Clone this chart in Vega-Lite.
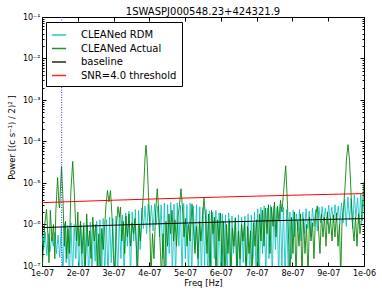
{
"$schema": "https://vega.github.io/schema/vega-lite/v6.json",
"width": 322, "height": 249,
"autosize": "none",
"padding": {"left": 42, "top": 17, "right": 18, "bottom": 25},
"background": "white",
"title": {"text": "1SWASPJ000548.23+424321.9", "fontSize": 10, "fontWeight": "normal", "font": "DejaVu Sans", "color": "black", "anchor": "middle", "offset": -4},
"config": {"font": "DejaVu Sans", "view": {"stroke": "black", "strokeWidth": 1}, "axis": {"grid": false, "domain": false, "tickColor": "black", "labelColor": "black", "titleColor": "black"}},
"datasets": {
"rdm": [{"freq":1e-7,"power":5.5e-7},{"freq":1.045e-7,"power":2.5e-7},{"freq":1.09e-7,"power":6.5e-7},{"freq":1.135e-7,"power":1.8e-7},{"freq":1.18e-7,"power":6e-7},{"freq":1.225e-7,"power":2.2e-7},{"freq":1.27e-7,"power":5e-7},{"freq":1.315e-7,"power":3e-7},{"freq":1.36e-7,"power":6.5e-7},{"freq":1.405e-7,"power":2e-7},{"freq":1.45e-7,"power":5.5e-7},{"freq":1.495e-7,"power":1.6e-7},
{"freq":1.54e-7,"power":9e-7},{"freq":1.585e-7,"power":5e-8},{"freq":1.63e-7,"power":1.05e-6},{"freq":1.675e-7,"power":1.2e-7},{"freq":1.72e-7,"power":9.5e-7},{"freq":1.765e-7,"power":5e-8},{"freq":1.81e-7,"power":1.1e-6},{"freq":1.855e-7,"power":6e-8},{"freq":1.9e-7,"power":1e-6},{"freq":1.945e-7,"power":1.5e-7},{"freq":1.99e-7,"power":9e-7},{"freq":2.035e-7,"power":5e-8},{"freq":2.08e-7,"power":1.05e-6},{"freq":2.125e-7,"power":5e-8},{"freq":2.17e-7,"power":1.1e-6},{"freq":2.215e-7,"power":1e-7},{"freq":2.26e-7,"power":9.5e-7},{"freq":2.305e-7,"power":5e-8},{"freq":2.35e-7,"power":1.15e-6},{"freq":2.395e-7,"power":5e-8},{"freq":2.44e-7,"power":1e-6},{"freq":2.485e-7,"power":1.3e-7},{"freq":2.53e-7,"power":1.2e-6},{"freq":2.575e-7,"power":5e-8},{"freq":2.62e-7,"power":1.3e-6},
{"freq":2.665e-7,"power":5e-8},{"freq":2.71e-7,"power":1.4e-6},{"freq":2.755e-7,"power":6e-8},{"freq":2.8e-7,"power":1.3e-6},{"freq":2.845e-7,"power":5e-8},{"freq":2.89e-7,"power":1.5e-6},{"freq":2.935e-7,"power":1.2e-7},{"freq":2.98e-7,"power":1.4e-6},{"freq":3.025e-7,"power":5e-8},{"freq":3.07e-7,"power":1.6e-6},{"freq":3.115e-7,"power":5e-8},{"freq":3.16e-7,"power":1.5e-6},{"freq":3.205e-7,"power":1.5e-7},{"freq":3.25e-7,"power":1.7e-6},{"freq":3.295e-7,"power":5e-8},
{"freq":3.34e-7,"power":1.9e-6},{"freq":3.385e-7,"power":3e-7},{"freq":3.43e-7,"power":2.1e-6},{"freq":3.475e-7,"power":5e-8},{"freq":3.52e-7,"power":2e-6},{"freq":3.565e-7,"power":4e-7},{"freq":3.61e-7,"power":2.3e-6},{"freq":3.655e-7,"power":5e-8},{"freq":3.7e-7,"power":2.2e-6},{"freq":3.745e-7,"power":2.5e-7},{"freq":3.79e-7,"power":2.5e-6},
{"freq":3.835e-7,"power":8e-7},{"freq":3.88e-7,"power":2.8e-6},{"freq":3.925e-7,"power":6e-7},{"freq":3.97e-7,"power":3.1e-6},{"freq":4.015e-7,"power":9e-7},{"freq":4.06e-7,"power":2.9e-6},{"freq":4.105e-7,"power":7e-7},{"freq":4.15e-7,"power":3.2e-6},{"freq":4.195e-7,"power":1e-6},{"freq":4.24e-7,"power":2.8e-6},{"freq":4.285e-7,"power":5e-7},{"freq":4.33e-7,"power":3e-6},{"freq":4.375e-7,"power":1.5e-7},
{"freq":4.42e-7,"power":3.3e-6},{"freq":4.465e-7,"power":5e-8},{"freq":4.51e-7,"power":3e-6},{"freq":4.555e-7,"power":2e-7},{"freq":4.6e-7,"power":3.4e-6},{"freq":4.645e-7,"power":5e-8},{"freq":4.69e-7,"power":3.1e-6},{"freq":4.735e-7,"power":5e-8},{"freq":4.78e-7,"power":3.3e-6},{"freq":4.825e-7,"power":3e-7},{"freq":4.87e-7,"power":2.9e-6},{"freq":4.915e-7,"power":5e-8},{"freq":4.96e-7,"power":3.2e-6},{"freq":5.005e-7,"power":1.5e-7},{"freq":5.05e-7,"power":3e-6},{"freq":5.095e-7,"power":5e-8},{"freq":5.14e-7,"power":3.3e-6},{"freq":5.185e-7,"power":5e-8},{"freq":5.23e-7,"power":2.8e-6},{"freq":5.275e-7,"power":2.5e-7},{"freq":5.32e-7,"power":3e-6},{"freq":5.365e-7,"power":5e-8},{"freq":5.41e-7,"power":2.7e-6},{"freq":5.455e-7,"power":5e-8},{"freq":5.5e-7,"power":2.6e-6},{"freq":5.545e-7,"power":1e-7},
{"freq":5.59e-7,"power":2.3e-6},{"freq":5.635e-7,"power":5e-8},{"freq":5.68e-7,"power":2.1e-6},{"freq":5.725e-7,"power":5e-8},{"freq":5.77e-7,"power":2e-6},{"freq":5.815e-7,"power":1.5e-7},{"freq":5.86e-7,"power":2.2e-6},{"freq":5.905e-7,"power":5e-8},{"freq":5.95e-7,"power":1.9e-6},{"freq":5.995e-7,"power":5e-8},{"freq":6.04e-7,"power":1.8e-6},{"freq":6.085e-7,"power":1e-7},{"freq":6.13e-7,"power":1.7e-6},{"freq":6.175e-7,"power":5e-8},{"freq":6.22e-7,"power":1.9e-6},{"freq":6.265e-7,"power":5e-8},{"freq":6.31e-7,"power":1.6e-6},{"freq":6.355e-7,"power":2e-7},{"freq":6.4e-7,"power":1.5e-6},{"freq":6.445e-7,"power":5e-8},{"freq":6.49e-7,"power":1.7e-6},{"freq":6.535e-7,"power":5e-8},{"freq":6.58e-7,"power":1.5e-6},{"freq":6.625e-7,"power":1.2e-7},{"freq":6.67e-7,"power":1.6e-6},{"freq":6.715e-7,"power":5e-8},{"freq":6.76e-7,"power":1.8e-6},{"freq":6.805e-7,"power":5e-8},{"freq":6.85e-7,"power":1.7e-6},{"freq":6.895e-7,"power":1.5e-7},{"freq":6.94e-7,"power":2e-6},{"freq":6.985e-7,"power":5e-8},
{"freq":7.03e-7,"power":2.4e-6},{"freq":7.075e-7,"power":5e-8},{"freq":7.12e-7,"power":2.6e-6},{"freq":7.165e-7,"power":2e-7},{"freq":7.21e-7,"power":2.8e-6},{"freq":7.255e-7,"power":5e-8},{"freq":7.3e-7,"power":2.5e-6},{"freq":7.345e-7,"power":1.5e-7},{"freq":7.39e-7,"power":2.9e-6},{"freq":7.435e-7,"power":5e-8},{"freq":7.48e-7,"power":2.7e-6},{"freq":7.525e-7,"power":2.5e-7},{"freq":7.57e-7,"power":2.6e-6},{"freq":7.615e-7,"power":5e-8},{"freq":7.66e-7,"power":2.9e-6},{"freq":7.705e-7,"power":1e-7},{"freq":7.75e-7,"power":2.6e-6},{"freq":7.795e-7,"power":5e-8},{"freq":7.84e-7,"power":2.3e-6},{"freq":7.885e-7,"power":5e-8},
{"freq":7.93e-7,"power":2e-6},{"freq":7.975e-7,"power":1.5e-7},{"freq":8.02e-7,"power":2.2e-6},{"freq":8.065e-7,"power":5e-7},{"freq":8.11e-7,"power":1.8e-6},{"freq":8.155e-7,"power":7e-7},{"freq":8.2e-7,"power":2.3e-6},{"freq":8.245e-7,"power":4e-7},{"freq":8.29e-7,"power":2e-6},{"freq":8.335e-7,"power":6e-7},{"freq":8.38e-7,"power":2.4e-6},{"freq":8.425e-7,"power":8e-7},{"freq":8.47e-7,"power":2.1e-6},{"freq":8.515e-7,"power":5e-7},{"freq":8.56e-7,"power":2.5e-6},{"freq":8.605e-7,"power":9e-7},{"freq":8.65e-7,"power":2.3e-6},{"freq":8.695e-7,"power":7e-7},{"freq":8.74e-7,"power":2.6e-6},
{"freq":8.785e-7,"power":1.1e-6},{"freq":8.83e-7,"power":2.7e-6},{"freq":8.875e-7,"power":1.2e-6},{"freq":8.92e-7,"power":2.5e-6},{"freq":8.965e-7,"power":1e-6},{"freq":9.01e-7,"power":2.9e-6},{"freq":9.055e-7,"power":1.3e-6},{"freq":9.1e-7,"power":2.6e-6},{"freq":9.145e-7,"power":1.1e-6},{"freq":9.19e-7,"power":3e-6},{"freq":9.235e-7,"power":1.2e-6},{"freq":9.28e-7,"power":2.8e-6},{"freq":9.325e-7,"power":1e-6},{"freq":9.37e-7,"power":3.3e-6},{"freq":9.415e-7,"power":1.1e-6},
{"freq":9.46e-7,"power":4e-6},{"freq":9.505e-7,"power":9e-7},{"freq":9.55e-7,"power":4.6e-6},{"freq":9.595e-7,"power":1.3e-6},{"freq":9.64e-7,"power":4.2e-6},{"freq":9.685e-7,"power":8e-7},{"freq":9.73e-7,"power":5.2e-6},{"freq":9.775e-7,"power":1.5e-6},{"freq":9.82e-7,"power":4.4e-6},{"freq":9.865e-7,"power":1e-6},{"freq":9.91e-7,"power":5.5e-6},{"freq":9.955e-7,"power":1.2e-6},{"freq":1e-6,"power":4.8e-6}],
"actual": [{"freq":1e-7,"power":6e-8},{"freq":1.028e-7,"power":2e-7},{"freq":1.07e-7,"power":9e-7},{"freq":1.126e-7,"power":2.3e-6},{"freq":1.168e-7,"power":5e-7},{"freq":1.196e-7,"power":1.2e-7},{"freq":1.232e-7,"power":2.2e-6},{"freq":1.28e-7,"power":4e-7},{"freq":1.321e-7,"power":1e-6},{"freq":1.358e-7,"power":1.5e-7},{"freq":1.386e-7,"power":2e-6},{"freq":1.436e-7,"power":1.35e-5},{"freq":1.475e-7,"power":3e-6},{"freq":1.492e-7,"power":2.5e-6},{"freq":1.545e-7,"power":2.5e-5},{"freq":1.587e-7,"power":4e-6},{"freq":1.623e-7,"power":3e-7},{"freq":1.657e-7,"power":1.2e-6},{"freq":1.693e-7,"power":1.5e-7},{"freq":1.727e-7,"power":8e-7},{"freq":1.763e-7,"power":2e-7},{"freq":1.805e-7,"power":6e-6},{"freq":1.858e-7,"power":3.3e-5},{"freq":1.903e-7,"power":6e-6},{"freq":1.936e-7,"power":1.2e-6},{"freq":1.964e-7,"power":4e-7},{"freq":2.001e-7,"power":2e-6},{"freq":2.034e-7,"power":3e-7},{"freq":2.076e-7,"power":1.2e-6},{"freq":2.118e-7,"power":2e-7},{"freq":2.16e-7,"power":9e-7},{"freq":2.202e-7,"power":5e-8},{"freq":2.249e-7,"power":1.8e-6},{"freq":2.294e-7,"power":3e-7},{"freq":2.333e-7,"power":7e-7},{"freq":2.37e-7,"power":1.5e-7},{"freq":2.42e-7,"power":1.5e-6},{"freq":2.462e-7,"power":4e-7},{"freq":2.504e-7,"power":1e-6},{"freq":2.546e-7,"power":8e-8},{"freq":2.588e-7,"power":6e-7},{"freq":2.627e-7,"power":5e-8},{"freq":2.671e-7,"power":8e-7},{"freq":2.713e-7,"power":2.5e-7},{"freq":2.755e-7,"power":1e-6},{"freq":2.789e-7,"power":3e-6},{"freq":2.831e-7,"power":6.6e-6},{"freq":2.872e-7,"power":3.5e-6},{"freq":2.915e-7,"power":6.6e-6},{"freq":2.957e-7,"power":1.5e-6},{"freq":2.993e-7,"power":2e-7},{"freq":3.035e-7,"power":5e-8},{"freq":3.077e-7,"power":9e-7},{"freq":3.124e-7,"power":2.7e-6},{"freq":3.161e-7,"power":1.5e-6},{"freq":3.194e-7,"power":2.6e-6},{"freq":3.23e-7,"power":4e-7},{"freq":3.272e-7,"power":1.2e-6},{"freq":3.311e-7,"power":2e-7},{"freq":3.348e-7,"power":1.6e-6},{"freq":3.39e-7,"power":5e-7},{"freq":3.432e-7,"power":1.8e-6},{"freq":3.474e-7,"power":3e-7},{"freq":3.516e-7,"power":1.1e-6},{"freq":3.557e-7,"power":6e-7},{"freq":3.599e-7,"power":1.4e-6},{"freq":3.641e-7,"power":2.5e-7},{"freq":3.669e-7,"power":6e-8},{"freq":3.711e-7,"power":1e-6},{"freq":3.753e-7,"power":4e-7},{"freq":3.795e-7,"power":1.8e-6},{"freq":3.837e-7,"power":6e-6},{"freq":3.879e-7,"power":4e-5},{"freq":3.907e-7,"power":8.1e-5},{"freq":3.935e-7,"power":4e-5},{"freq":3.977e-7,"power":5e-6},{"freq":4.013e-7,"power":1e-6},{"freq":4.046e-7,"power":5e-8},{"freq":4.088e-7,"power":6e-7},{"freq":4.13e-7,"power":1.5e-7},{"freq":4.177e-7,"power":2e-6},{"freq":4.222e-7,"power":7.3e-6},{"freq":4.264e-7,"power":2e-6},{"freq":4.298e-7,"power":4e-7},{"freq":4.34e-7,"power":5e-8},{"freq":4.382e-7,"power":6e-7},{"freq":4.424e-7,"power":5e-8},{"freq":4.466e-7,"power":1.2e-6},{"freq":4.507e-7,"power":3e-7},{"freq":4.549e-7,"power":1.8e-6},{"freq":4.592e-7,"power":6e-7},{"freq":4.634e-7,"power":2.2e-6},{"freq":4.676e-7,"power":4e-7},{"freq":4.717e-7,"power":1.3e-6},{"freq":4.759e-7,"power":3e-7},{"freq":4.801e-7,"power":1.5e-6},{"freq":4.843e-7,"power":3e-6},{"freq":4.885e-7,"power":7.3e-6},{"freq":4.927e-7,"power":2.5e-6},{"freq":4.969e-7,"power":5e-7},{"freq":5.011e-7,"power":1.4e-6},{"freq":5.053e-7,"power":3e-7},{"freq":5.095e-7,"power":1e-6},{"freq":5.137e-7,"power":4e-7},{"freq":5.193e-7,"power":3.1e-6},{"freq":5.234e-7,"power":8e-7},{"freq":5.276e-7,"power":2e-7},{"freq":5.318e-7,"power":9e-7},{"freq":5.36e-7,"power":1.5e-7},{"freq":5.402e-7,"power":1.2e-6},{"freq":5.444e-7,"power":4e-7},{"freq":5.486e-7,"power":1.5e-6},{"freq":5.528e-7,"power":4.3e-6},{"freq":5.57e-7,"power":1.5e-6},{"freq":5.612e-7,"power":2e-7},{"freq":5.654e-7,"power":1.8e-6},{"freq":5.696e-7,"power":5e-8},{"freq":5.738e-7,"power":2.2e-6},{"freq":5.78e-7,"power":6e-7},{"freq":5.821e-7,"power":1.5e-6},{"freq":5.863e-7,"power":5e-8},{"freq":5.905e-7,"power":1.3e-6},{"freq":5.947e-7,"power":4e-7},{"freq":5.989e-7,"power":1.9e-6},{"freq":6.031e-7,"power":1e-7},{"freq":6.073e-7,"power":1.2e-6},{"freq":6.115e-7,"power":5e-8},{"freq":6.157e-7,"power":1e-6},{"freq":6.199e-7,"power":2e-7},{"freq":6.241e-7,"power":1.3e-6},{"freq":6.282e-7,"power":5e-8},{"freq":6.324e-7,"power":8e-7},{"freq":6.366e-7,"power":3e-7},{"freq":6.408e-7,"power":1.4e-6},{"freq":6.45e-7,"power":5e-8},{"freq":6.492e-7,"power":7e-7},{"freq":6.534e-7,"power":1.5e-7},{"freq":6.576e-7,"power":1e-6},{"freq":6.618e-7,"power":4e-7},{"freq":6.66e-7,"power":1.2e-6},{"freq":6.702e-7,"power":5e-8},{"freq":6.744e-7,"power":9e-7},{"freq":6.786e-7,"power":2e-7},{"freq":6.828e-7,"power":7e-7},{"freq":6.87e-7,"power":5e-8},{"freq":6.911e-7,"power":1.1e-6},{"freq":6.953e-7,"power":3e-7},{"freq":6.995e-7,"power":1.3e-6},{"freq":7.037e-7,"power":1e-7},{"freq":7.079e-7,"power":1.8e-6},{"freq":7.121e-7,"power":4e-7},{"freq":7.163e-7,"power":2.2e-6},{"freq":7.205e-7,"power":3e-7},{"freq":7.247e-7,"power":2.5e-6},{"freq":7.289e-7,"power":6e-7},{"freq":7.331e-7,"power":3e-6},{"freq":7.373e-7,"power":2e-7},{"freq":7.415e-7,"power":2.6e-6},{"freq":7.457e-7,"power":9e-7},{"freq":7.498e-7,"power":3.5e-6},{"freq":7.54e-7,"power":5e-7},{"freq":7.583e-7,"power":2.8e-6},{"freq":7.624e-7,"power":1.2e-6},{"freq":7.666e-7,"power":3.8e-6},{"freq":7.708e-7,"power":2e-6},{"freq":7.75e-7,"power":6e-6},{"freq":7.812e-7,"power":2.6e-5},{"freq":7.862e-7,"power":3e-6},{"freq":7.895e-7,"power":4e-7},{"freq":7.932e-7,"power":5e-8},{"freq":7.974e-7,"power":1.5e-6},{"freq":8.015e-7,"power":2e-7},{"freq":8.057e-7,"power":2e-6},{"freq":8.099e-7,"power":5e-8},{"freq":8.141e-7,"power":1.2e-6},{"freq":8.183e-7,"power":3e-7},{"freq":8.225e-7,"power":1.8e-6},{"freq":8.267e-7,"power":5e-8},{"freq":8.309e-7,"power":1.4e-6},{"freq":8.351e-7,"power":2e-7},{"freq":8.393e-7,"power":1e-6},{"freq":8.435e-7,"power":5e-8},{"freq":8.477e-7,"power":1.5e-6},{"freq":8.519e-7,"power":4e-7},{"freq":8.561e-7,"power":1.1e-6},{"freq":8.602e-7,"power":1.5e-7},{"freq":8.644e-7,"power":1.6e-6},{"freq":8.695e-7,"power":2.8e-6},{"freq":8.737e-7,"power":6e-7},{"freq":8.77e-7,"power":2e-7},{"freq":8.812e-7,"power":1.8e-6},{"freq":8.854e-7,"power":5e-7},{"freq":8.896e-7,"power":1.5e-6},{"freq":8.938e-7,"power":3e-7},{"freq":8.98e-7,"power":2e-6},{"freq":9.022e-7,"power":6e-7},{"freq":9.064e-7,"power":1.4e-6},{"freq":9.106e-7,"power":4e-7},{"freq":9.147e-7,"power":1.7e-6},{"freq":9.189e-7,"power":5e-7},{"freq":9.231e-7,"power":1.9e-6},{"freq":9.273e-7,"power":3e-7},{"freq":9.315e-7,"power":1e-6},{"freq":9.349e-7,"power":5e-8},{"freq":9.386e-7,"power":1.2e-6},{"freq":9.428e-7,"power":2.5e-6},{"freq":9.47e-7,"power":8e-6},{"freq":9.512e-7,"power":4e-5},{"freq":9.554e-7,"power":8.4e-5},{"freq":9.596e-7,"power":3.5e-5},{"freq":9.637e-7,"power":6e-6},{"freq":9.679e-7,"power":1e-6},{"freq":9.721e-7,"power":4e-7},{"freq":9.763e-7,"power":1.5e-6},{"freq":9.805e-7,"power":3e-7},{"freq":9.847e-7,"power":1.8e-6},{"freq":9.889e-7,"power":6e-7},{"freq":9.931e-7,"power":1.5e-6},{"freq":9.959e-7,"power":3e-6},{"freq":9.987e-7,"power":7e-6},{"freq":1e-6,"power":1.06e-5}],
"baseline": [{"freq":1e-7,"power":8.4e-7},{"freq":2e-7,"power":9.01e-7},{"freq":3e-7,"power":9.62e-7},{"freq":4e-7,"power":1.023e-6},{"freq":5e-7,"power":1.084e-6},{"freq":6e-7,"power":1.146e-6},{"freq":7e-7,"power":1.207e-6},{"freq":8e-7,"power":1.268e-6},{"freq":9e-7,"power":1.329e-6},{"freq":1e-6,"power":1.39e-6}],
"threshold": [{"freq":1e-7,"power":3.36e-6},{"freq":2e-7,"power":3.604e-6},{"freq":3e-7,"power":3.848e-6},{"freq":4e-7,"power":4.092e-6},{"freq":5e-7,"power":4.336e-6},{"freq":6e-7,"power":4.584e-6},{"freq":7e-7,"power":4.828e-6},{"freq":8e-7,"power":5.072e-6},{"freq":9e-7,"power":5.316e-6},{"freq":1e-6,"power":5.56e-6}],
"marker": [{"freq":1.55e-7}]
},
"layer": [
{"data": {"name": "rdm"}, "mark": {"type": "line", "clip": true, "strokeWidth": 1, "opacity": 0.8},
 "encoding": {
  "x": {"field": "freq", "type": "quantitative", "scale": {"domain": [1e-7, 1e-6], "nice": false, "zero": false},
   "axis": {"orient": "bottom", "values": [1e-7,2e-7,3e-7,4e-7,5e-7,6e-7,7e-7,8e-7,9e-7,1e-6], "labelExpr": "replace(format(datum.value, '.0e'), 'e-', 'e-0')", "ticks": false, "labelFontSize": 8, "labelPadding": 3, "labelOverlap": false, "labelFlush": false, "labelBound": false, "title": "Freq [Hz]", "titleFontSize": 8.5, "titleFontWeight": "normal", "titlePadding": 1}},
  "y": {"field": "power", "type": "quantitative", "scale": {"type": "log", "domain": [1e-7, 0.1], "nice": false},
   "axis": {"orient": "left", "values": [1e-7,1e-6,1e-5,1e-4,1e-3,1e-2,1e-1], "labelExpr": "datum.value < 2e-7 ? '10⁻⁷' : datum.value < 2e-6 ? '10⁻⁶' : datum.value < 2e-5 ? '10⁻⁵' : datum.value < 2e-4 ? '10⁻⁴' : datum.value < 2e-3 ? '10⁻³' : datum.value < 2e-2 ? '10⁻²' : '10⁻¹'", "ticks": false, "labelFontSize": 8, "labelPadding": 2, "labelOverlap": false, "labelFlush": false, "labelBound": false, "title": "Power [(c s⁻¹) / 2)² ]", "titleFontSize": 8.5, "titleFontWeight": "normal", "titleX": -31, "titleY": 120, "titleAngle": 270, "titleAlign": "center", "titleBaseline": "middle"}},
  "color": {"datum": "CLEANed RDM", "type": "nominal",
   "scale": {"domain": ["CLEANed RDM", "CLEANed Actual", "baseline", "SNR=4.0 threshold"], "range": ["#00BFBF", "#008000", "#000000", "#FF0000"]},
   "legend": {"orient": "none", "legendX": 4, "legendY": 5, "title": null, "fillColor": "white", "strokeColor": "black", "padding": 5, "labelFontSize": 10, "labelColor": "black", "symbolType": "stroke", "symbolSize": 200, "symbolStrokeWidth": 1.5, "symbolOpacity": 0.5, "labelOffset": 14, "rowPadding": 0.5, "cornerRadius": 0}}
 }},
{"data": {"name": "actual"}, "mark": {"type": "line", "clip": true, "strokeWidth": 1, "opacity": 0.85},
 "encoding": {"x": {"field": "freq", "type": "quantitative", "axis": null}, "y": {"field": "power", "type": "quantitative", "axis": null}, "color": {"datum": "CLEANed Actual", "type": "nominal"}}},
{"data": {"name": "baseline"}, "mark": {"type": "line", "clip": true, "strokeWidth": 1},
 "encoding": {"x": {"field": "freq", "type": "quantitative", "axis": null}, "y": {"field": "power", "type": "quantitative", "axis": null}, "color": {"datum": "baseline", "type": "nominal"}}},
{"data": {"name": "threshold"}, "mark": {"type": "line", "clip": true, "strokeWidth": 1},
 "encoding": {"x": {"field": "freq", "type": "quantitative", "axis": null}, "y": {"field": "power", "type": "quantitative", "axis": null}, "color": {"datum": "SNR=4.0 threshold", "type": "nominal"}}},
{"data": {"name": "marker"}, "mark": {"type": "rule", "color": "#3333FF", "strokeDash": [1, 1.5], "strokeWidth": 1},
 "encoding": {"x": {"field": "freq", "type": "quantitative", "axis": null}}},
{"data": {"name": "baseline"}, "mark": {"type": "line", "opacity": 0},
 "encoding": {
  "x": {"field": "freq", "type": "quantitative", "axis": {"orient": "bottom", "values": [1e-7,2e-7,3e-7,4e-7,5e-7,6e-7,7e-7,8e-7,9e-7,1e-6], "labels": false, "ticks": true, "tickSize": -4, "title": null}},
  "y": {"field": "power", "type": "quantitative", "axis": {"orient": "left", "values": [1e-7,2e-7,3e-7,4e-7,5e-7,6e-7,7e-7,8e-7,9e-7,1e-6,2e-6,3e-6,4e-6,5e-6,6e-6,7e-6,8e-6,9e-6,1e-5,2e-5,3e-5,4e-5,5e-5,6e-5,7e-5,8e-5,9e-5,1e-4,2e-4,3e-4,4e-4,5e-4,6e-4,7e-4,8e-4,9e-4,1e-3,2e-3,3e-3,4e-3,5e-3,6e-3,7e-3,8e-3,9e-3,1e-2,2e-2,3e-2,4e-2,5e-2,6e-2,7e-2,8e-2,9e-2,1e-1], "labels": false, "ticks": true, "tickSize": {"condition": {"test": "abs(log(datum.value)/LN10 - round(log(datum.value)/LN10)) < 0.001", "value": -4}, "value": -2}, "title": null}}
 }},
{"data": {"name": "baseline"}, "mark": {"type": "line", "opacity": 0},
 "encoding": {
  "x": {"field": "freq", "type": "quantitative", "axis": {"orient": "top", "values": [1e-7,2e-7,3e-7,4e-7,5e-7,6e-7,7e-7,8e-7,9e-7,1e-6], "labels": false, "ticks": true, "tickSize": -4, "title": null}},
  "y": {"field": "power", "type": "quantitative", "axis": {"orient": "right", "values": [1e-7,2e-7,3e-7,4e-7,5e-7,6e-7,7e-7,8e-7,9e-7,1e-6,2e-6,3e-6,4e-6,5e-6,6e-6,7e-6,8e-6,9e-6,1e-5,2e-5,3e-5,4e-5,5e-5,6e-5,7e-5,8e-5,9e-5,1e-4,2e-4,3e-4,4e-4,5e-4,6e-4,7e-4,8e-4,9e-4,1e-3,2e-3,3e-3,4e-3,5e-3,6e-3,7e-3,8e-3,9e-3,1e-2,2e-2,3e-2,4e-2,5e-2,6e-2,7e-2,8e-2,9e-2,1e-1], "labels": false, "ticks": true, "tickSize": {"condition": {"test": "abs(log(datum.value)/LN10 - round(log(datum.value)/LN10)) < 0.001", "value": -4}, "value": -2}, "title": null}}
 }}
],
"resolve": {"axis": {"x": "independent", "y": "independent"}}
}
